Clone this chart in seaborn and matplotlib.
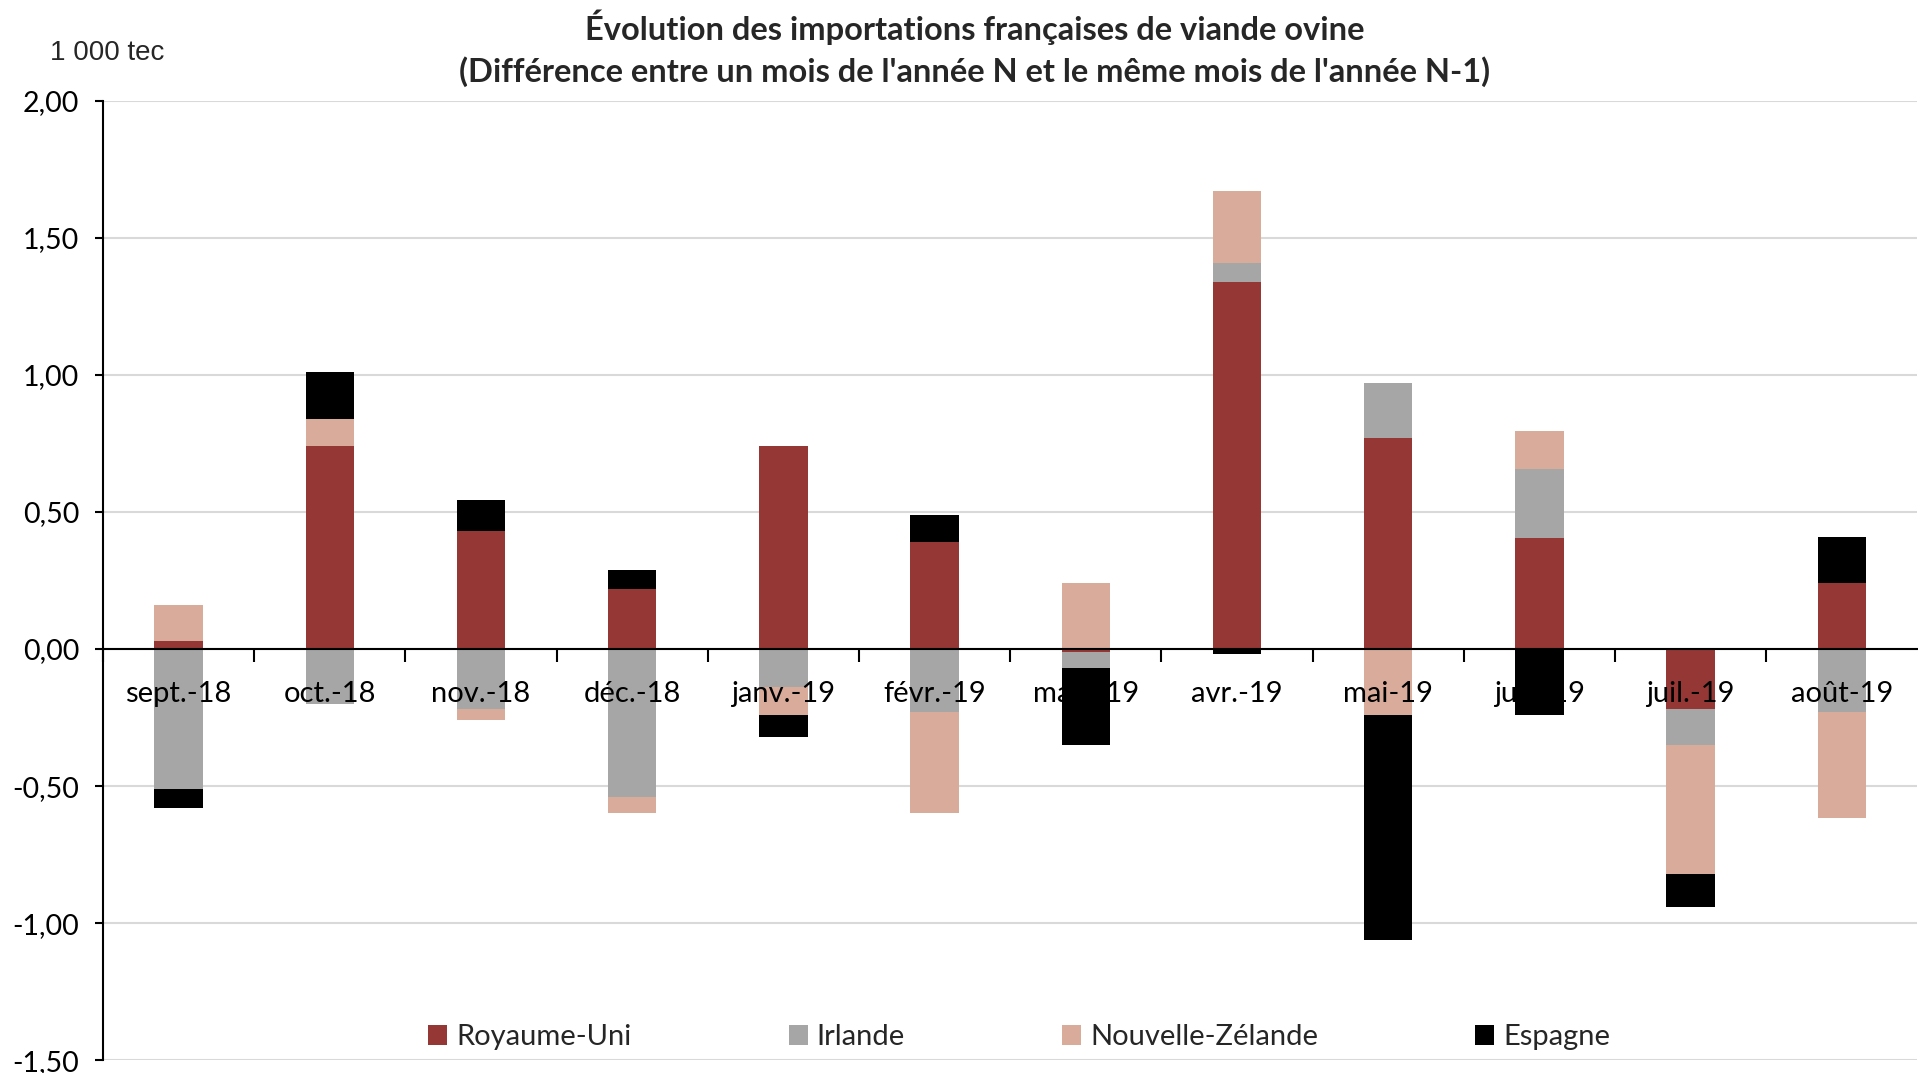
import matplotlib
matplotlib.use("Agg")
import matplotlib.pyplot as plt
from matplotlib.patches import Patch
from matplotlib.ticker import FixedLocator, FuncFormatter
import seaborn as sns
import pandas as pd

# Data (1 000 tec, difference with same month of previous year)
months = ["sept.-18", "oct.-18", "nov.-18", "déc.-18", "janv.-19", "févr.-19",
          "mars-19", "avr.-19", "mai-19", "juin-19", "juil.-19", "août-19"]
royaume_uni = [0.03, 0.74, 0.43, 0.22, 0.74, 0.39, -0.01, 1.34, 0.77, 0.405, -0.22, 0.24]
irlande = [-0.51, -0.20, -0.22, -0.54, -0.14, -0.23, -0.06, 0.07, 0.20, 0.25, -0.13, -0.23]
nouvelle_zelande = [0.13, 0.10, -0.04, -0.06, -0.10, -0.37, 0.24, 0.26, -0.24, 0.14, -0.47, -0.385]
espagne = [-0.07, 0.17, 0.115, 0.07, -0.08, 0.10, -0.28, -0.02, -0.82, -0.24, -0.12, 0.17]

series = ["Royaume-Uni", "Irlande", "Nouvelle-Zélande", "Espagne"]
colors = {"Royaume-Uni": "#953735", "Irlande": "#a6a6a6",
          "Nouvelle-Zélande": "#d9ab9b", "Espagne": "#000000"}

df = pd.DataFrame({"Royaume-Uni": royaume_uni, "Irlande": irlande,
                   "Nouvelle-Zélande": nouvelle_zelande, "Espagne": espagne},
                  index=months)

# Excel-style stacking: positives stacked upward, negatives downward
pos = df.clip(lower=0).cumsum(axis=1)
neg = df.clip(upper=0).cumsum(axis=1)

sns.set_theme(style="white")
plt.rcParams["font.family"] = ["Lato", "DejaVu Sans"]

fig = plt.figure(figsize=(19.18, 10.73), dpi=100)
ax = fig.add_axes([0.0537, 0.012, 0.946, 0.894])

# draw cumulative bars from last series to first so each segment shows its colour
for s in reversed(series):
    for part in (pos, neg):
        sns.barplot(x=months, y=part[s].values, color=colors[s], saturation=1,
                    width=0.32, errorbar=None, linewidth=0, ax=ax)

ax.set_ylim(-1.5, 2.0)
ax.set_xlim(-0.5, len(months) - 0.5)
ax.yaxis.set_major_locator(FixedLocator([-1.5, -1.0, -0.5, 0, 0.5, 1.0, 1.5, 2.0]))
ax.yaxis.set_major_formatter(FuncFormatter(lambda v, p: f"{v:.2f}".replace(".", ",")))
ax.grid(axis="y", color="#d9d9d9", linewidth=1.5)
ax.set_axisbelow(True)
ax.xaxis.set_zorder(3)  # month labels sit over the bars

for side in ("top", "right"):
    ax.spines[side].set_visible(False)
ax.spines["left"].set_color("black")
ax.spines["left"].set_linewidth(1.5)
ax.spines["bottom"].set_position(("data", 0))
ax.spines["bottom"].set_color("black")
ax.spines["bottom"].set_linewidth(1.5)
ax.spines["bottom"].set_zorder(3)

ax.set_xticks(range(len(months)))
ax.set_xticklabels(months)
ax.set_xticks([i + 0.5 for i in range(len(months) - 1)] + [-0.5], minor=True)
ax.tick_params(axis="x", which="major", length=0, pad=23, labelsize=21, colors="black")
ax.tick_params(axis="x", which="minor", length=9, width=1.5, direction="out",
               bottom=True, color="black")
ax.tick_params(axis="y", length=6, width=1.5, left=True, direction="out",
               labelsize=20.5, colors="black", pad=11)
ax.set_xlabel("")
ax.set_ylabel("")

handles = [Patch(facecolor=colors[s], edgecolor="none", label=s) for s in series]
ax.legend(handles=handles, loc="center", bbox_to_anchor=(0.505, 0.024), ncol=4,
          frameon=False, fontsize=21, handlelength=0.65, handleheight=0.65,
          handletextpad=0.3, columnspacing=5.4)

fig.text(0.508, 0.975, "Évolution des importations françaises de viande ovine",
         ha="center", va="center", fontsize=23.5, fontweight="bold")
fig.text(0.508, 0.933, "(Différence entre un mois de l'année N et le même mois de l'année N-1)",
         ha="center", va="center", fontsize=23.5, fontweight="bold")
fig.text(0.026, 0.951, "1 000 tec", ha="left", va="center", fontsize=20,
         family=["Liberation Sans", "DejaVu Sans"])

fig.savefig("out.png", dpi=100)
